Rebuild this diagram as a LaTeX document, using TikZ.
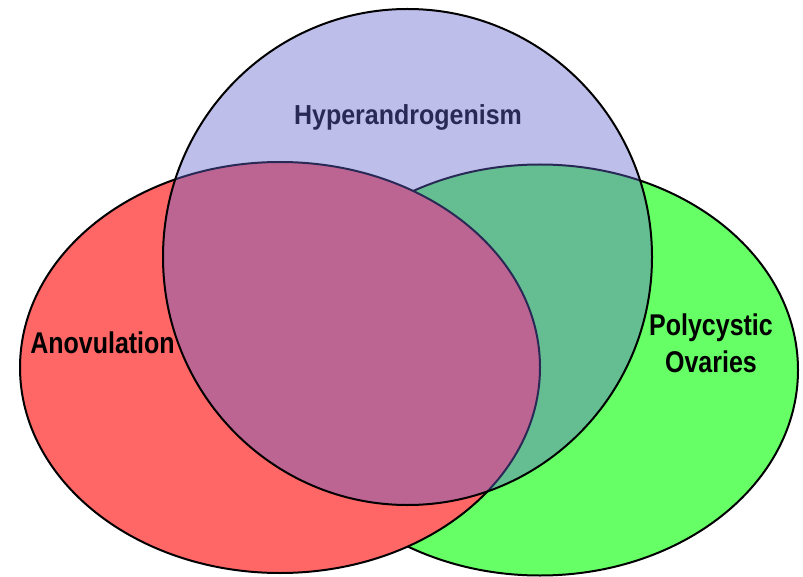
\documentclass[tikz,border=0pt]{standalone}
\usepackage{fontspec}
\setmainfont{Liberation Sans}
\usepackage{tikz}

\definecolor{anovred}{RGB}{255,102,102}
\definecolor{polygreen}{RGB}{102,255,102}
\definecolor{hyperblue}{RGB}{100,100,207}

\begin{document}
\begin{tikzpicture}[x=1pt, y=-1pt,
  ring/.style={draw=black, line width=2pt},
  setlabel/.style={font=\fontsize{25}{37}\selectfont\bfseries, align=center, anchor=base, inner sep=0pt}]

\useasboundingbox (0,0) rectangle (803,577);

% polycystic ovaries, at the bottom
\draw[ring, fill=polygreen] (540,370) ellipse [x radius=258pt, y radius=205.5pt];

% anovulation, covers the green
\draw[ring, fill=anovred] (280,367.5) ellipse [x radius=260pt, y radius=205.5pt];

\node[setlabel] (AnovLabel) at (102.5,353) {\scalebox{1}[1.2]{Anovulation}};
\node[setlabel] (PolyLabel) at (711,335) {\scalebox{1}[1.2]{Polycystic}};
\node[setlabel] (OvarLabel) at (711,372) {\scalebox{1}[1.2]{Ovaries}};
\node[setlabel] (HyperLabel) at (408,125) {\scalebox{1}[1.1]{Hyperandrogenism}};

% hyperandrogenism, see-through on top
\draw[ring, fill=hyperblue, fill opacity=0.42] (407.5,257) ellipse [x radius=244.5pt, y radius=248pt];

\end{tikzpicture}
\end{document}
